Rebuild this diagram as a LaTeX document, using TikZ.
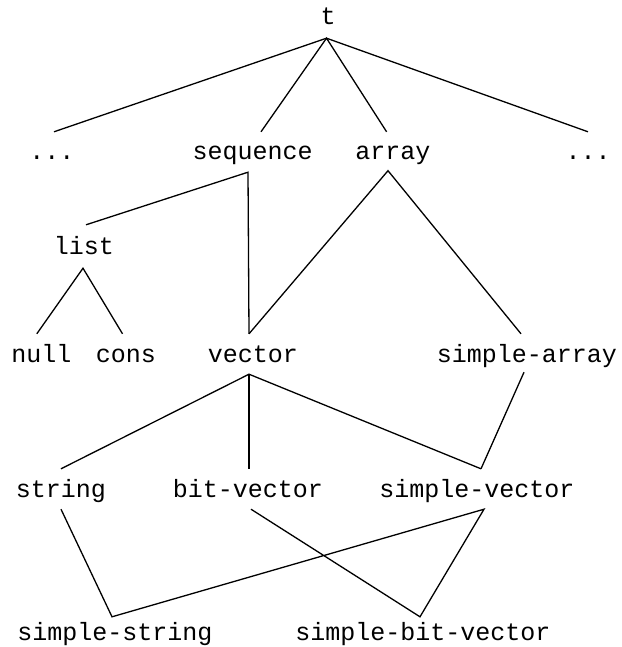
\documentclass[tikz,border=0pt]{standalone}
\usepackage{fontspec}
\setmonofont{Liberation Mono}
\begin{document}
\begin{tikzpicture}[x=1pt,y=-1pt,
  lbl/.style={font=\ttfamily\fontsize{25}{30}\selectfont, inner sep=0pt, text height=28pt, text depth=12pt, anchor=base},
  edge/.style={line width=1.3pt}]
\useasboundingbox (0,0) rectangle (621,647);
% nodes
\node[lbl] (t) at (328,25) {t};
\node[lbl] (ld) at (52,160) {...};
\node[lbl] (seq) at (252.6,160) {sequence};
\node[lbl] (arr) at (393,160) {array};
\node[lbl] (rd) at (588,160) {...};
\node[lbl] (list) at (84,254) {list};
\node[lbl] (null) at (41.5,362) {null};
\node[lbl] (cons) at (126,362) {cons};
\node[lbl] (vec) at (253,362) {vector};
\node[lbl] (sarr) at (527,362) {simple-array};
\node[lbl] (str) at (61,497) {string};
\node[lbl] (bvec) at (248,497) {bit-vector};
\node[lbl] (svec) at (477,497) {simple-vector};
\node[lbl] (sstr) at (115,640) {simple-string};
\node[lbl] (sbv) at (423,640) {simple-bit-vector};
% edges
\draw[edge] ([xshift=2pt]ld.north) -- ([xshift=-1.5pt,yshift=-1pt]t.south) -- ([xshift=0pt]rd.north);
\draw[edge] ([xshift=8.4pt]seq.north) -- ([xshift=-1.5pt,yshift=-1pt]t.south) -- ([xshift=-6.4pt]arr.north);
\draw[edge] ([xshift=2pt,yshift=1pt]list.north) -- ([xshift=-4.6pt]seq.south) -- ([xshift=-4pt]vec.north);
\draw[edge] ([xshift=-4pt]vec.north) -- ([xshift=-5pt,yshift=1.5pt]arr.south) -- ([xshift=-6pt]sarr.north);
\draw[edge] ([xshift=-4.7pt]null.north) -- ([xshift=-1pt,yshift=-2pt]list.south) -- ([xshift=-3.5pt]cons.north);
\draw[edge] ([xshift=0pt]str.north) -- ([xshift=-4pt]vec.south) -- ([xshift=4pt]svec.north);
\draw[edge] ([xshift=-4pt]vec.south) -- ([xshift=1pt]bvec.north);
\draw[edge] ([xshift=-3pt,yshift=2pt]sarr.south) -- ([xshift=4pt]svec.north);
\draw[edge] ([xshift=0pt]str.south) -- ([xshift=-3pt,yshift=-5pt]sstr.north) -- ([xshift=7pt]svec.south) -- ([xshift=-3pt,yshift=-5pt]sbv.north) -- ([xshift=3pt]bvec.south);
\end{tikzpicture}
\end{document}
